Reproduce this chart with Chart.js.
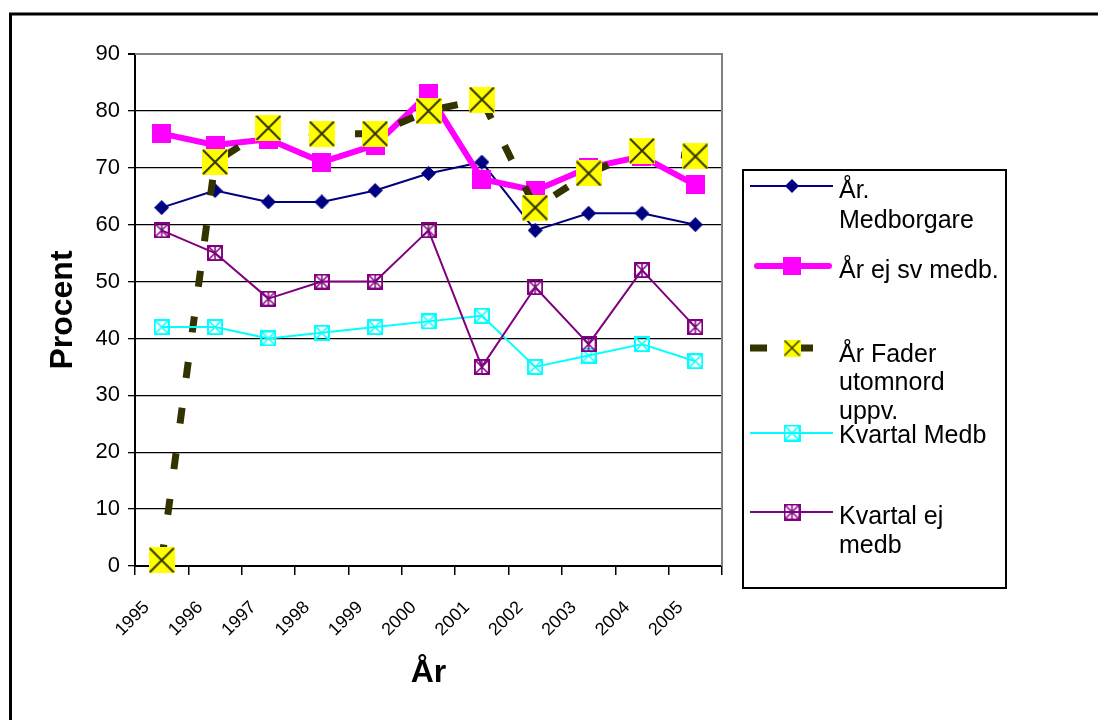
<!DOCTYPE html>
<html><head><meta charset="utf-8">
<script src="https://cdn.jsdelivr.net/npm/chart.js@4"></script>
<style>html,body{margin:0;padding:0;background:#fff}canvas{display:block}</style>
</head><body>
<canvas id="c" width="1098" height="720"></canvas>
<script>
const years = ['1995','1996','1997','1998','1999','2000','2001','2002','2003','2004','2005'];
const arMedborgare     = [63, 66, 64, 64, 66, 69, 71, 59, 62, 62, 60];
const arEjSvMedb       = [76, 74, 75, 71, 74, 83, 68, 66, 70, 72, 67];
const arFaderUtomnord  = [1, 71, 77, 76, 76, 80, 82, 63, 69, 73, 72];
const kvartalMedb      = [42, 42, 40, 41, 42, 43, 44, 35, 37, 39, 36];
const kvartalEjMedb    = [59, 55, 47, 50, 50, 59, 35, 49, 39, 52, 42];
const seriesNames = ['År. Medborgare', 'År ej sv medb.', 'År Fader utomnord uppv.', 'Kvartal Medb', 'Kvartal ej medb'];
const legendLines = [['År.', 'Medborgare'], ['År ej sv medb.'], ['År Fader', 'utomnord', 'uppv.'], ['Kvartal Medb'], ['Kvartal ej', 'medb']];
const yTicks = [0, 10, 20, 30, 40, 50, 60, 70, 80, 90];
const yTitle = 'Procent';
const xTitle = 'År';

const FAMILY = '"Liberation Sans", Arial, Helvetica, sans-serif';

function marker(size, draw) {
  const c = document.createElement('canvas');
  c.width = size; c.height = size;
  draw(c.getContext('2d'), size);
  return c;
}
function diamond(s, color) {
  return marker(s, (g, s) => {
    g.fillStyle = color; g.beginPath();
    g.moveTo(s / 2, 0); g.lineTo(s, s / 2); g.lineTo(s / 2, s); g.lineTo(0, s / 2); g.closePath(); g.fill();
  });
}
function square(s, color) {
  return marker(s, (g, s) => { g.fillStyle = color; g.fillRect(0, 0, s, s); });
}
function yellowX(s) {
  return marker(s, (g, s) => {
    g.fillStyle = '#FFFF00'; g.fillRect(0, 0, s, s);
    g.strokeStyle = '#333300'; g.lineWidth = Math.max(1.5, s / 13);
    g.beginPath(); g.moveTo(1, 1); g.lineTo(s - 1, s - 1); g.moveTo(s - 1, 1); g.lineTo(1, s - 1); g.stroke();
  });
}
function boxX(s, color, star) {
  return marker(s, (g, s) => {
    g.strokeStyle = color; g.lineWidth = 2; g.strokeRect(1, 1, s - 2, s - 2);
    g.lineWidth = 1.5; g.beginPath();
    g.moveTo(2, 2); g.lineTo(s - 2, s - 2); g.moveTo(s - 2, 2); g.lineTo(2, s - 2);
    if (star) { g.moveTo(s / 2, 2); g.lineTo(s / 2, s - 2); }
    g.stroke();
  });
}

const styles = [
  { color: '#000080', width: 2, dash: [], pt: diamond(15, '#000080'), lpt: diamond(14, '#000080') },
  { color: '#FF00FF', width: 6, dash: [], pt: square(19, '#FF00FF'), lpt: square(18, '#FF00FF') },
  { color: '#333300', width: 7, dash: [16, 30], pt: yellowX(26), lpt: yellowX(17) },
  { color: '#00FFFF', width: 2, dash: [], pt: boxX(16, '#00FFFF', false), lpt: boxX(17, '#00FFFF', false) },
  { color: '#800080', width: 2, dash: [], pt: boxX(16, '#800080', true), lpt: boxX(17, '#800080', true) }
];
const seriesData = [arMedborgare, arEjSvMedb, arFaderUtomnord, kvartalMedb, kvartalEjMedb];

const datasets = seriesData.map((d, i) => ({
  label: seriesNames[i],
  data: d,
  borderColor: styles[i].color,
  backgroundColor: styles[i].color,
  borderWidth: styles[i].width,
  borderDash: styles[i].dash,
  borderJoinStyle: 'round',
  pointStyle: styles[i].pt,
  pointRadius: 10,
  tension: 0,
  fill: false,
  clip: false,
  order: 5 - i
}));

const framePlugin = {
  id: 'frame',
  beforeDatasetsDraw(chart) {
    const { ctx, chartArea: a } = chart;
    ctx.save();
    ctx.strokeStyle = '#808080'; ctx.lineWidth = 2;
    ctx.beginPath(); ctx.moveTo(a.left, a.top); ctx.lineTo(a.right, a.top); ctx.lineTo(a.right, a.bottom); ctx.stroke();
    ctx.restore();
  },
  afterDraw(chart) {
    const ctx = chart.ctx;
    ctx.save();
    ctx.strokeStyle = '#000'; ctx.lineWidth = 3;
    ctx.beginPath(); ctx.moveTo(10.5, 730); ctx.lineTo(10.5, 14); ctx.lineTo(1110, 14); ctx.stroke();
    ctx.lineWidth = 2;
    ctx.strokeRect(743, 170, 263, 418);
    const sampleY = [186, 266, 348, 433, 512];
    const baselines = [[198, 228], [278], [362, 390, 419], [443], [524, 553]];
    styles.forEach((st, i) => {
      const y = sampleY[i];
      ctx.strokeStyle = st.color; ctx.lineWidth = st.width;
      ctx.lineCap = i === 1 ? 'round' : 'butt';
      ctx.beginPath();
      if (i === 2) {
        ctx.moveTo(750, y); ctx.lineTo(767, y); ctx.moveTo(801, y); ctx.lineTo(813, y);
      } else {
        ctx.moveTo(i === 1 ? 757 : 750, y); ctx.lineTo(i === 1 ? 829 : 833, y);
      }
      ctx.stroke();
      ctx.drawImage(st.lpt, 792 - st.lpt.width / 2, y - st.lpt.height / 2);
      ctx.fillStyle = '#000'; ctx.font = '25px ' + FAMILY; ctx.textAlign = 'left'; ctx.textBaseline = 'alphabetic';
      legendLines[i].forEach((t, k) => ctx.fillText(t, 839, baselines[i][k]));
    });
    ctx.restore();
  }
};

new Chart(document.getElementById('c'), {
  type: 'line',
  data: { labels: years, datasets },
  plugins: [framePlugin],
  options: {
    responsive: false,
    animation: false,
    events: [],
    layout: { padding: { left: 10, right: 376, top: 54, bottom: 24 } },
    plugins: { legend: { display: false }, tooltip: { enabled: false } },
    scales: {
      x: {
        type: 'category',
        offset: true,
        grid: { offset: true, drawOnChartArea: false, drawTicks: true, tickLength: 9, color: '#000', lineWidth: 1.5 },
        border: { color: '#000', width: 2 },
        ticks: { minRotation: 45, maxRotation: 45, autoSkip: false, labelOffset: -15, padding: 22, color: '#000', font: { size: 18, family: FAMILY } },
        title: { display: true, text: xTitle, color: '#000', font: { size: 32, weight: 'bold', family: FAMILY }, padding: { top: 0, bottom: 4 } },
        afterFit: s => { s.height = 130; }
      },
      y: {
        min: 0, max: 90,
        afterBuildTicks: s => { s.ticks = yTicks.map(v => ({ value: v })); },
        ticks: { color: '#000', padding: 8, font: { size: 22, family: FAMILY } },
        grid: {
          color: c => (c.tick && c.tick.value === 90) ? '#808080' : '#000',
          lineWidth: c => (c.tick && c.tick.value === 90) ? 2 : 1.3,
          tickColor: '#000', tickLength: 7
        },
        border: { color: '#000', width: 2 },
        title: { display: true, text: yTitle, color: '#000', font: { size: 32, weight: 'bold', family: FAMILY }, padding: { top: 34, bottom: 0 } },
        afterFit: s => { s.width = 125; }
      }
    }
  }
});
</script>
</body></html>
